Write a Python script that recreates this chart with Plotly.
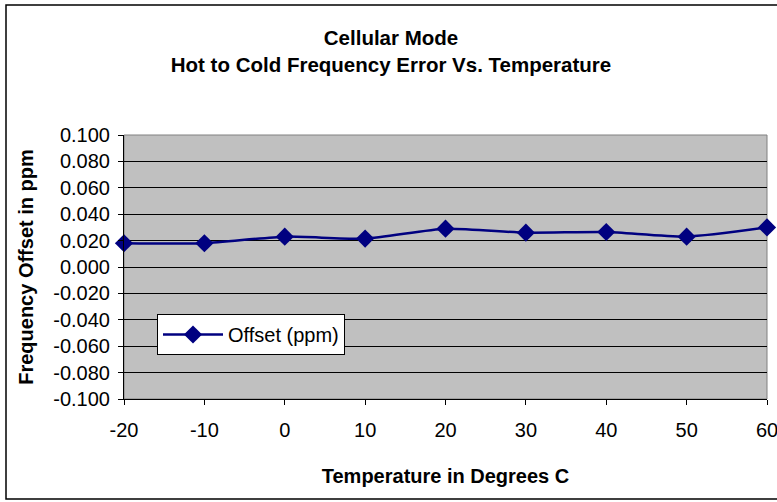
import plotly.graph_objects as go

temperature = [-20, -10, 0, 10, 20, 30, 40, 50, 60]
offset_ppm = [0.018, 0.018, 0.023, 0.0215, 0.029, 0.026, 0.0265, 0.023, 0.030]
y_ticks = [-0.1, -0.08, -0.06, -0.04, -0.02, 0.0, 0.02, 0.04, 0.06, 0.08, 0.1]
y_labels = ["-0.100", "-0.080", "-0.060", "-0.040", "-0.020", "0.000",
            "0.020", "0.040", "0.060", "0.080", "0.100"]
x_ticks = [-20, -10, 0, 10, 20, 30, 40, 50, 60]

NAVY = "#000080"
FONT = "Liberation Sans, Arial, sans-serif"

fig = go.Figure()
fig.add_trace(go.Scatter(
    x=temperature, y=offset_ppm, name="Offset (ppm)",
    mode="lines+markers",
    line=dict(color=NAVY, width=2.5, shape="spline", smoothing=0.6),
    marker=dict(symbol="diamond", size=14, color=NAVY),
    cliponaxis=False,
))

L, R, T, B = 124, 10, 135, 103
W, H = 777, 502
pw, ph = W - L - R, H - T - B

def px_x(x):
    return (x - L) / pw

def px_y(y):
    return (H - B - y) / ph

fig.update_layout(
    width=W, height=H,
    margin=dict(l=L, r=R, t=T, b=B, pad=0, autoexpand=False),
    paper_bgcolor="white",
    plot_bgcolor="#C0C0C0",
    font=dict(family=FONT, size=20, color="black"),
    title=dict(
        text="<b>Cellular Mode</b><br><b>Hot to Cold Frequency Error Vs. Temperature</b>",
        x=391 / W, xref="container", xanchor="center",
        y=1 - 45 / H, yref="container", yanchor="middle",
        font=dict(family=FONT, size=20.5, color="black"),
    ),
    showlegend=True,
    legend=dict(
        x=px_x(157), y=px_y(314), xanchor="left", yanchor="top",
        bgcolor="white", bordercolor="black", borderwidth=1,
        font=dict(family=FONT, size=20, color="black"),
        itemwidth=60, tracegroupgap=0,
    ),
    xaxis=dict(
        range=[-20, 60], tickvals=x_ticks, ticktext=[str(v) for v in x_ticks],
        showgrid=False, zeroline=False, automargin=False,
        showline=True, linecolor="black", linewidth=1,
        ticks="outside", ticklen=5, tickcolor="black",
        ticklabelstandoff=8, ticklabeloverflow="allow",
        title=dict(text="<b>Temperature in Degrees C</b>", standoff=28,
                   font=dict(family=FONT, size=20)),
    ),
    yaxis=dict(
        range=[-0.1, 0.1], tickvals=y_ticks, ticktext=y_labels,
        showgrid=True, gridcolor="black", gridwidth=1,
        zeroline=False, automargin=False,
        showline=True, linecolor="black", linewidth=1,
        ticks="outside", ticklen=5, tickcolor="black",
        ticklabelstandoff=4,
        title=dict(text="<b>Frequency Offset in ppm</b>", standoff=14,
                   font=dict(family=FONT, size=20)),
    ),
    shapes=[
        dict(type="rect", xref="paper", yref="paper", x0=0, x1=1, y0=0, y1=1,
             line=dict(color="#808080", width=1), layer="below"),
        dict(type="rect", xref="paper", yref="paper",
             x0=px_x(6), x1=px_x(790), y0=px_y(499), y1=px_y(5),
             line=dict(color="black", width=1.5), fillcolor="rgba(0,0,0,0)"),
    ],
)

fig.write_html("out.html", config={"displayModeBar": False},
               post_script="document.body.style.margin='0';document.body.style.overflow='hidden';")
